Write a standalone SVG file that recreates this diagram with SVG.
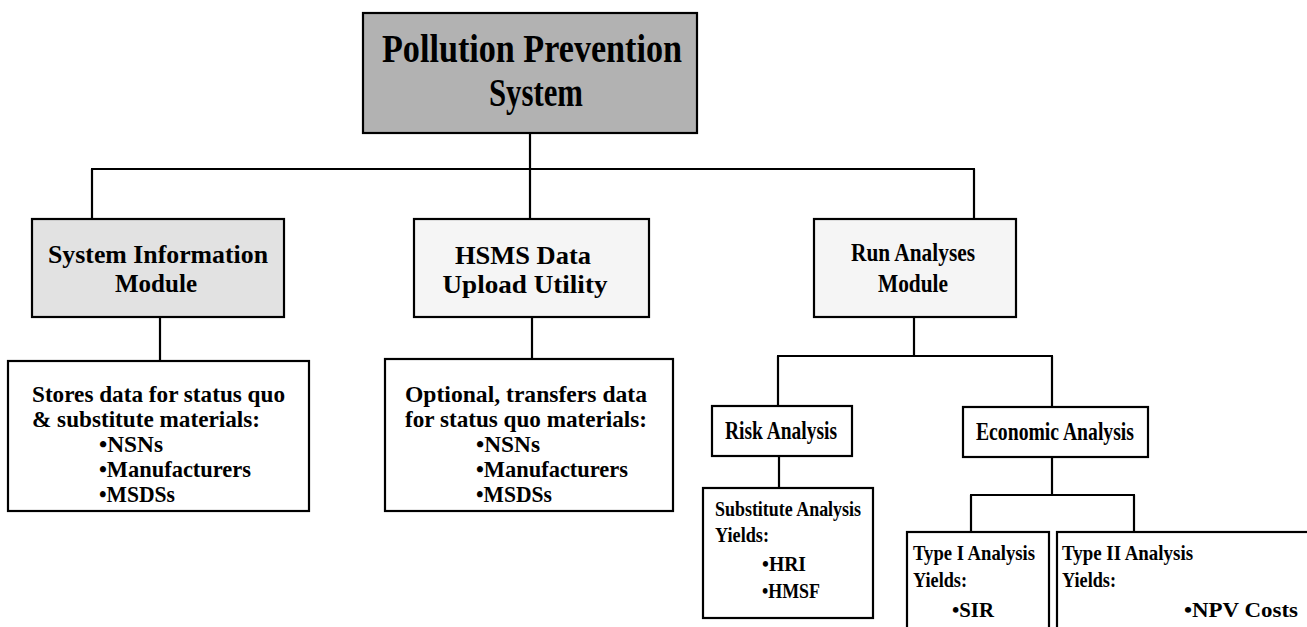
<svg xmlns="http://www.w3.org/2000/svg" width="1307" height="627" viewBox="0 0 1307 627">
<style>
  .box { stroke: #000; stroke-width: 2.2; }
  .gray1 { fill: #b2b2b2; }
  .gray2 { fill: #e2e2e2; }
  .gray3 { fill: #f5f5f5; }
  .white { fill: #fff; }
  .t { font-family: "Liberation Serif", "Times New Roman", serif; font-weight: bold; fill: #000; }
  .title { font-size: 40px; }
  .mod { font-size: 25px; }
  .desc { font-size: 24px; }
  .ana { font-size: 25px; }
  .sub { font-size: 22px; }
  .conn line { stroke: #000; stroke-width: 2.2; }
</style>
<rect width="1307" height="627" fill="#fff"/>
<g id="connectors" class="conn">
  <line x1="530" y1="133" x2="530" y2="169"/>
  <line x1="91" y1="169" x2="975" y2="169"/>
  <line x1="92" y1="169" x2="92" y2="219"/>
  <line x1="530" y1="169" x2="530" y2="219"/>
  <line x1="974" y1="169" x2="974" y2="219"/>
  <line x1="160" y1="317" x2="160" y2="361"/>
  <line x1="532" y1="317" x2="532" y2="359"/>
  <line x1="914" y1="317" x2="914" y2="356"/>
  <line x1="777" y1="356" x2="1053" y2="356"/>
  <line x1="778" y1="356" x2="778" y2="406"/>
  <line x1="1052" y1="356" x2="1052" y2="407"/>
  <line x1="779" y1="456" x2="779" y2="488"/>
  <line x1="1052" y1="457" x2="1052" y2="495"/>
  <line x1="970" y1="495" x2="1135" y2="495"/>
  <line x1="971" y1="495" x2="971" y2="532"/>
  <line x1="1134" y1="495" x2="1134" y2="532"/>
</g>
<g id="node-pps">
  <rect class="box gray1" x="363" y="13" width="334" height="120" stroke-width="3"/>
  <text class="t title" x="532" y="62" text-anchor="middle" textLength="300" lengthAdjust="spacingAndGlyphs">Pollution Prevention</text>
  <text class="t title" x="536" y="106" text-anchor="middle" textLength="94" lengthAdjust="spacingAndGlyphs">System</text>
</g>
<g id="node-sim">
  <rect class="box gray2" x="32" y="219" width="252" height="98" stroke-width="2.8"/>
  <text class="t mod" x="158" y="263" text-anchor="middle" textLength="220" lengthAdjust="spacingAndGlyphs">System Information</text>
  <text class="t mod" x="156" y="292" text-anchor="middle" textLength="82" lengthAdjust="spacingAndGlyphs">Module</text>
</g>
<g id="node-hsms">
  <rect class="box gray3" x="414" y="219" width="235" height="98"/>
  <text class="t mod" x="523" y="264" text-anchor="middle" textLength="136" lengthAdjust="spacingAndGlyphs">HSMS Data</text>
  <text class="t mod" x="525" y="293" text-anchor="middle" textLength="165" lengthAdjust="spacingAndGlyphs">Upload Utility</text>
</g>
<g id="node-run">
  <rect class="box gray3" x="814" y="219" width="202" height="98"/>
  <text class="t mod" x="913" y="261" text-anchor="middle" textLength="124" lengthAdjust="spacingAndGlyphs">Run Analyses</text>
  <text class="t mod" x="913" y="292" text-anchor="middle" textLength="70" lengthAdjust="spacingAndGlyphs">Module</text>
</g>
<g id="node-stores">
  <rect class="box white" x="8" y="361" width="301" height="150"/>
  <text class="t desc" x="32" y="402" textLength="253" lengthAdjust="spacingAndGlyphs">Stores data for status quo</text>
  <text class="t desc" x="32" y="427" textLength="228" lengthAdjust="spacingAndGlyphs">&amp; substitute materials:</text>
  <text class="t desc" x="99" y="452" textLength="64" lengthAdjust="spacingAndGlyphs">•NSNs</text>
  <text class="t desc" x="99" y="477" textLength="152" lengthAdjust="spacingAndGlyphs">•Manufacturers</text>
  <text class="t desc" x="99" y="502" textLength="76" lengthAdjust="spacingAndGlyphs">•MSDSs</text>
</g>
<g id="node-optional">
  <rect class="box white" x="385" y="359" width="288" height="152"/>
  <text class="t desc" x="405" y="402" textLength="242" lengthAdjust="spacingAndGlyphs">Optional, transfers data</text>
  <text class="t desc" x="405" y="427" textLength="242" lengthAdjust="spacingAndGlyphs">for status quo materials:</text>
  <text class="t desc" x="476" y="452" textLength="64" lengthAdjust="spacingAndGlyphs">•NSNs</text>
  <text class="t desc" x="476" y="477" textLength="152" lengthAdjust="spacingAndGlyphs">•Manufacturers</text>
  <text class="t desc" x="476" y="502" textLength="76" lengthAdjust="spacingAndGlyphs">•MSDSs</text>
</g>
<g id="node-risk">
  <rect class="box white" x="712" y="406" width="140" height="50"/>
  <text class="t ana" x="781" y="439" text-anchor="middle" textLength="112" lengthAdjust="spacingAndGlyphs">Risk Analysis</text>
</g>
<g id="node-econ">
  <rect class="box white" x="963" y="407" width="185" height="50"/>
  <text class="t ana" x="1055" y="440" text-anchor="middle" textLength="158" lengthAdjust="spacingAndGlyphs">Economic Analysis</text>
</g>
<g id="node-subst">
  <rect class="box white" x="703" y="488" width="170" height="130"/>
  <text class="t sub" x="715" y="516" textLength="146" lengthAdjust="spacingAndGlyphs">Substitute Analysis</text>
  <text class="t sub" x="715" y="542" textLength="54" lengthAdjust="spacingAndGlyphs">Yields:</text>
  <text class="t sub" x="762" y="571" textLength="44" lengthAdjust="spacingAndGlyphs">•HRI</text>
  <text class="t sub" x="762" y="598" textLength="58" lengthAdjust="spacingAndGlyphs">•HMSF</text>
</g>
<g id="node-type1">
  <rect class="box white" x="907" y="532" width="142" height="110"/>
  <text class="t sub" x="913" y="560" textLength="122" lengthAdjust="spacingAndGlyphs">Type I Analysis</text>
  <text class="t sub" x="913" y="587" textLength="54" lengthAdjust="spacingAndGlyphs">Yields:</text>
  <text class="t sub" x="952" y="617" textLength="42" lengthAdjust="spacingAndGlyphs">•SIR</text>
</g>
<g id="node-type2">
  <rect class="box white" x="1057" y="532" width="270" height="110"/>
  <text class="t sub" x="1062" y="560" textLength="131" lengthAdjust="spacingAndGlyphs">Type II Analysis</text>
  <text class="t sub" x="1062" y="587" textLength="54" lengthAdjust="spacingAndGlyphs">Yields:</text>
  <text class="t sub" x="1184" y="617" textLength="114" lengthAdjust="spacingAndGlyphs">•NPV Costs</text>
</g>
</svg>
